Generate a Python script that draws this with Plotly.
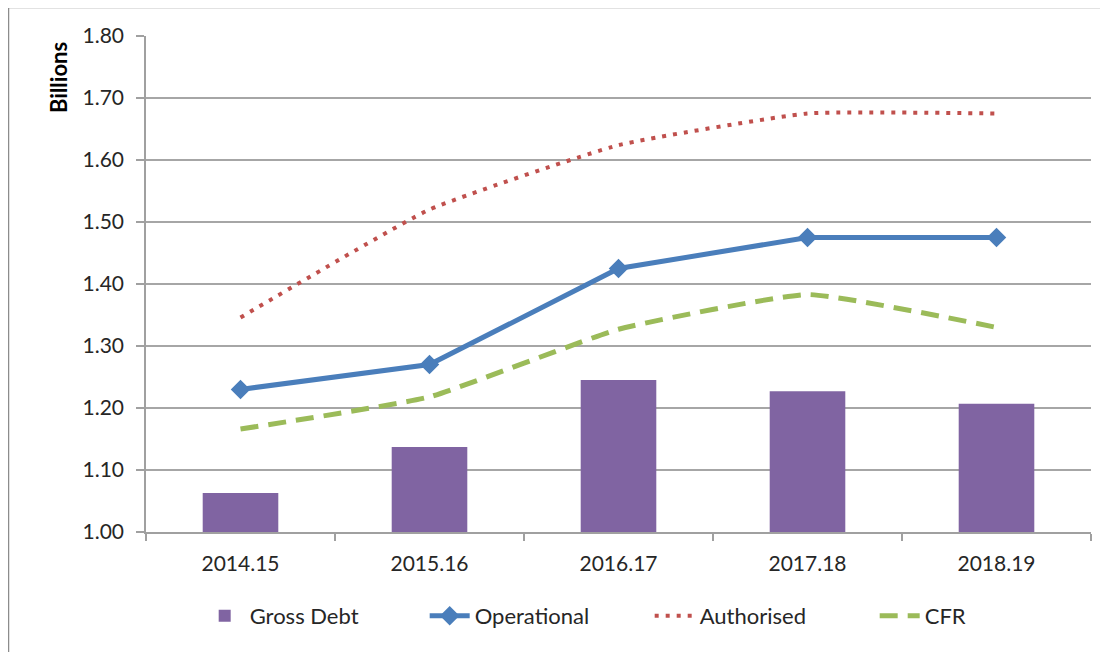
import plotly.graph_objects as go

categories = ["2014.15", "2015.16", "2016.17", "2017.18", "2018.19"]
gross_debt = [1.063, 1.137, 1.245, 1.227, 1.207]
operational = [1.23, 1.27, 1.425, 1.475, 1.475]
authorised = [1.346, 1.52, 1.624, 1.675, 1.675]
cfr = [1.166, 1.218, 1.327, 1.383, 1.33]
y_ticks = [1.0, 1.1, 1.2, 1.3, 1.4, 1.5, 1.6, 1.7, 1.8]

FONT = "Lato, Carlito, Calibri, sans-serif"
TXT = "#262626"

# plot area in page pixels (reference): x 145..1090, y 35..531
PL, PR, PT, PB = 145, 1090, 35, 531
PW, PH = PR - PL, PB - PT


def px_x(x):
    return (x - PL) / PW


def px_y(y):
    return (PB - y) / PH


fig = go.Figure()
fig.add_trace(go.Bar(x=categories, y=[v - 1.0 for v in gross_debt], base=1.0,
                     name="Gross Debt", marker=dict(color="#8064A2", line=dict(width=0)),
                     width=0.4))
fig.add_trace(go.Scatter(x=categories, y=operational, name="Operational", mode="lines+markers",
                         line=dict(color="#4A7EBB", width=5),
                         marker=dict(symbol="diamond", size=15, color="#4A7EBB")))
fig.add_trace(go.Scatter(x=categories, y=authorised, name="Authorised", mode="lines",
                         line=dict(color="#C0504D", width=4, dash="4px,7px", shape="spline", smoothing=0.4)))
fig.add_trace(go.Scatter(x=categories, y=cfr, name="CFR", mode="lines",
                         line=dict(color="#9BBB59", width=5, dash="18px,10px", shape="spline", smoothing=0.4)))

fig.update_layout(
    width=1108, height=652,
    margin=dict(l=138, r=25, t=28, b=128, autoexpand=False),
    paper_bgcolor="white", plot_bgcolor="white",
    font=dict(family=FONT, size=20, color=TXT),
    bargap=0.6,
    showlegend=True,
    legend=dict(orientation="h", x=0.533, xanchor="center", y=px_y(615), yanchor="middle",
                font=dict(family=FONT, size=22, color=TXT), entrywidth=170,
                itemwidth=40, traceorder="normal", bgcolor="rgba(0,0,0,0)"),
    shapes=[
        dict(type="line", xref="paper", yref="paper", x0=px_x(7.5), x1=1.05,
             y0=px_y(6.5), y1=px_y(6.5), line=dict(color="#8C8C8C", width=1.5)),
        dict(type="line", xref="paper", yref="paper", x0=px_x(7.5), x1=px_x(7.5),
             y0=px_y(6.5), y1=-0.35, line=dict(color="#8C8C8C", width=1.5)),
    ],
    annotations=[
        dict(text="<b>Billions</b>", xref="paper", yref="paper", x=px_x(57), y=px_y(77),
             xanchor="center", yanchor="middle", textangle=-90, showarrow=False,
             font=dict(family=FONT, size=22, color="#000000")),
    ],
)
fig.update_xaxes(
    type="category", showgrid=False, showline=True, linecolor="#A0A0A0", linewidth=1.5,
    ticks="outside", tickson="boundaries", ticklen=7, tickcolor="#A0A0A0", tickwidth=1.5,
    tickfont=dict(family=FONT, size=21, color=TXT), ticklabelstandoff=12,
)
fig.update_yaxes(
    range=[1.0, 1.8], tickvals=y_ticks, tickformat=".2f",
    showgrid=True, gridcolor="#A6A6A6", gridwidth=1.5,
    showline=True, linecolor="#A0A0A0", linewidth=1.5,
    ticks="outside", ticklen=8, tickcolor="#A0A0A0", tickwidth=1.5,
    tickfont=dict(family=FONT, size=21, color=TXT), ticklabelstandoff=8,
    zeroline=False,
)

fig.write_html("out.html")
